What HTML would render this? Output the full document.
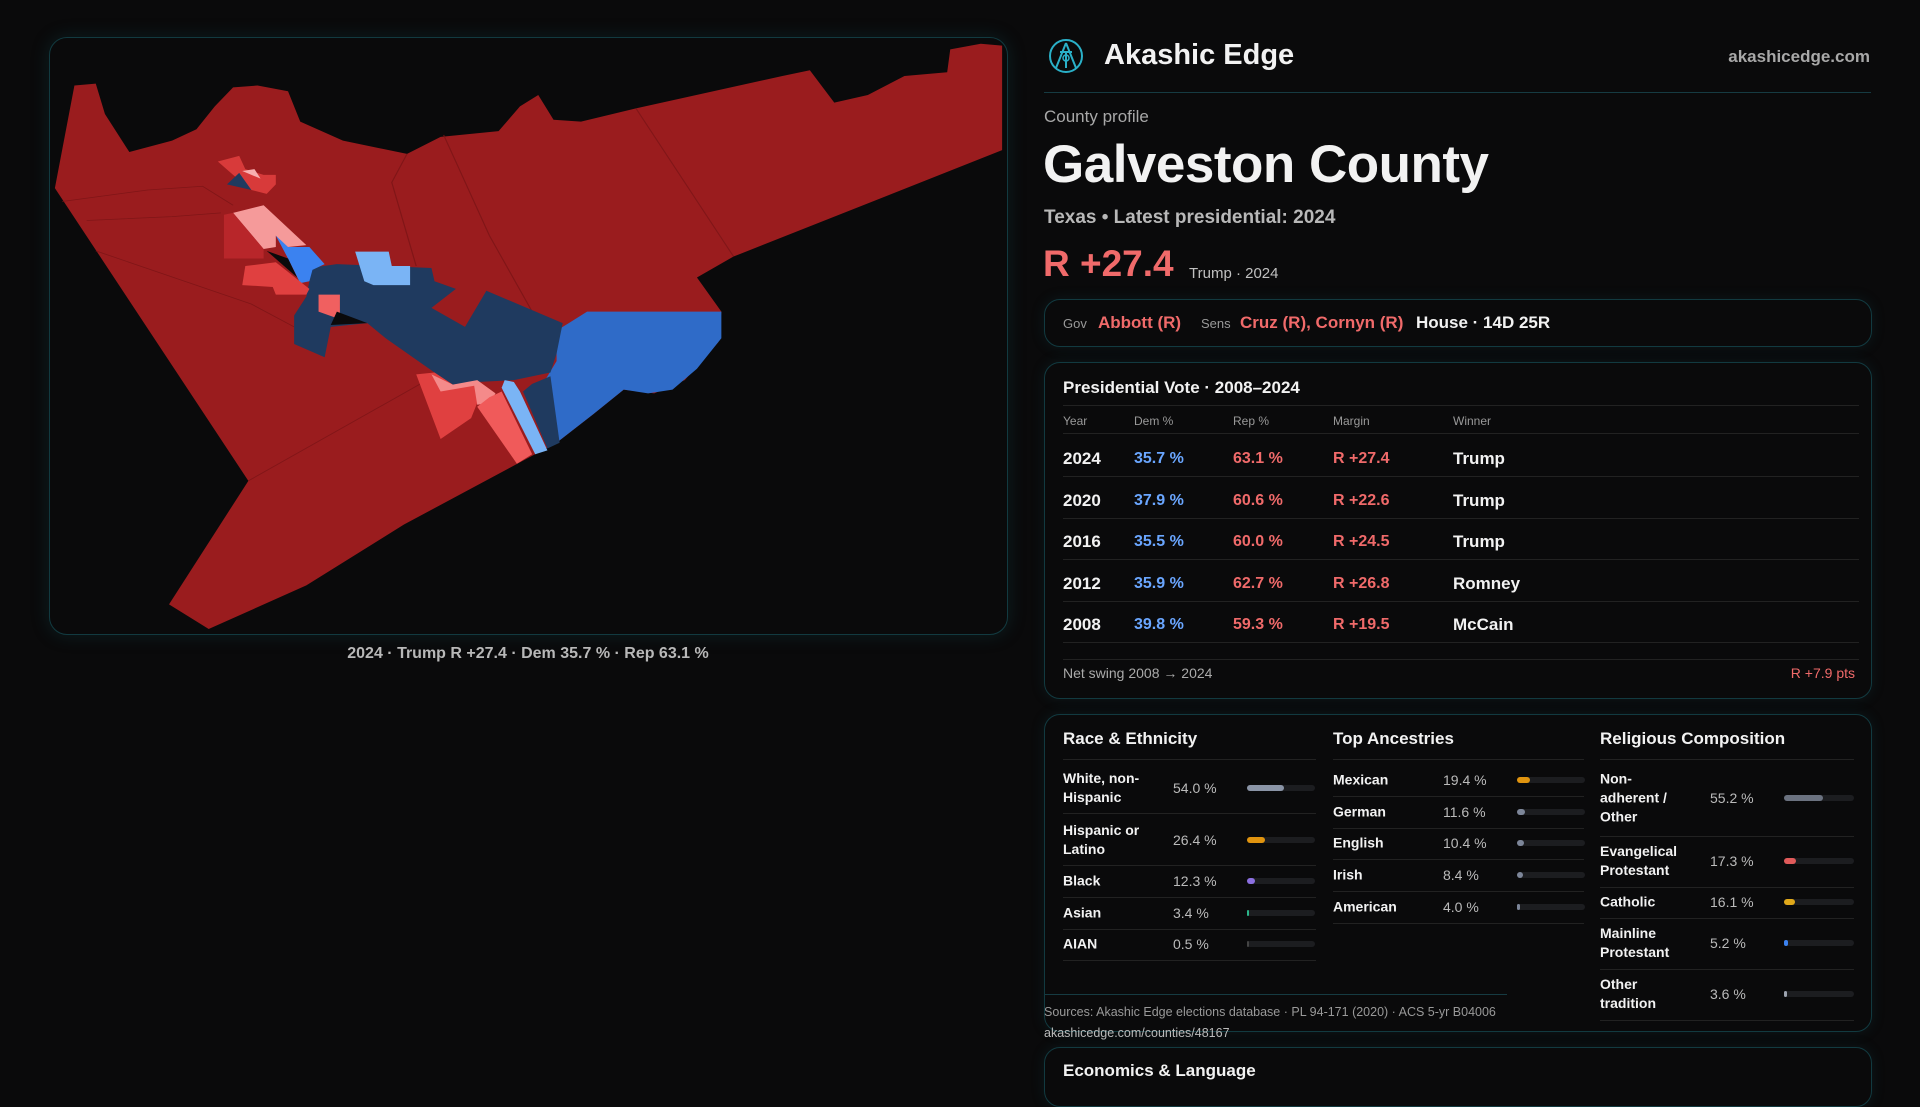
<!DOCTYPE html>
<html><head><meta charset="utf-8">
<style>
*{box-sizing:border-box;margin:0;padding:0}
body{width:1920px;height:1080px;background:#0a0a0b;font-family:"Liberation Sans",sans-serif;color:#f2f2f2;position:relative;overflow:hidden}
.abs{position:absolute;white-space:nowrap}
.card{position:absolute;border:1px solid #123a40;border-radius:16px;background:#0a0a0b;box-shadow:0 0 14px rgba(20,90,100,0.18)}
.gray{color:#a8a8a8}
.red{color:#f06a6a}
.hl{position:absolute;height:1px;background:#222}
.fill{position:absolute;left:0;top:0;height:6px;border-radius:3px}
</style></head><body>

<div class="card" style="left:49px;top:37px;width:959px;height:598px;border-radius:18px;box-shadow:0 0 18px rgba(20,90,100,0.25)">
<svg width="957" height="596" viewBox="0 0 1568 1568" preserveAspectRatio="none" style="position:absolute;left:0;top:0">
<polygon fill="#9a1c1e" points="8,395 40,125 75,120 90,200 130,300 200,270 240,240 270,180 300,130 340,125 390,140 410,220 480,270 585,305 640,260 735,245 770,180 800,150 825,215 870,220 960,185 1200,100 1245,85 1285,170 1340,150 1400,100 1470,90 1475,30 1525,15 1560,20 1560,295 1120,575 1060,630 1100,720 1095,800 1040,900 990,935 940,925 890,990 830,1065 760,1125 580,1280 420,1440 260,1555 195,1490 325,1165"/>
<g stroke="#7a1416" stroke-width="2" fill="none" opacity="0.8">
<polyline points="960,185 1120,575"/><polyline points="645,255 720,520 790,720"/><polyline points="75,560 330,700 400,760"/><polyline points="325,1165 640,880"/><polyline points="20,430 160,400 250,390 300,440"/><polyline points="60,480 200,470 280,460"/><polyline points="585,305 560,380 600,600"/>
</g>
<polygon fill="#2f6bc8" points="880,720 1100,720 1100,790 1060,870 1020,925 980,935 940,925 890,990 830,1065 800,930 830,850 830,770 850,750"/>
<polygon fill="#1f3a5f" points="425,605 470,595 625,605 630,640 665,660 625,710 680,760 715,665 840,750 830,830 820,880 760,900 700,905 660,912 630,880 550,790 520,750 460,760 450,840 400,805 400,730 420,680 425,640"/>
<polygon fill="#7ab4f5" points="500,562 555,562 560,600 590,600 590,650 530,650 515,640"/>
<polygon fill="#3b82f0" points="370,520 390,520 390,550 425,550 450,595 430,610 425,640 410,645 390,580"/>
<polygon fill="#f59a9a" points="300,460 350,440 420,545 390,550 370,520 370,550 350,555"/>
<polygon fill="#b8262a" points="285,465 300,460 350,555 350,580 285,580"/>
<polygon fill="#e04040" points="320,600 370,590 425,660 420,675 370,675 365,655 315,650"/>
<polygon fill="#f06060" points="440,675 475,675 475,740 440,720"/>
<polygon fill="#0a0a0b" points="355,560 390,580 405,630"/>
<polygon fill="#0a0a0b" points="470,720 520,750 460,755"/>
<polygon fill="#e04040" points="600,885 630,880 660,912 700,905 700,960 690,1000 640,1055"/>
<polygon fill="#f48a8a" points="625,885 660,912 700,900 730,935 720,960 700,965 695,915 640,930"/>
<polygon fill="#f05a5a" points="720,945 740,930 790,1095 765,1120 700,970"/>
<polygon fill="#7ab4f5" points="745,900 760,905 770,930 815,1085 795,1095 740,920"/>
<polygon fill="#1f3a5f" points="790,910 820,890 835,1065 815,1080 775,930"/>
<polygon fill="#d83a3a" points="275,325 310,310 320,345 350,360 370,360 370,385 355,410 330,400 300,360"/>
<polygon fill="#1f3a5f" points="290,385 310,355 330,400"/>
<polygon fill="#f8b0b0" points="315,350 335,345 345,370"/>
</svg>
</div>
<div class="abs gray" style="left:528px;top:645px;transform:translateX(-50%);font-size:16px;font-weight:bold;color:#b8b8b8">2024 · Trump R +27.4 · Dem 35.7 % · Rep 63.1 %</div>

<svg class="abs" style="left:1048px;top:38px" width="36" height="36" viewBox="0 0 36 36">
<circle cx="18" cy="18" r="16" fill="none" stroke="#2ab0c8" stroke-width="2"/>
<path d="M18 5 L8 30 M18 5 L28 30 M12 14 L24 14 M18 14 L18 30" stroke="#2ab0c8" stroke-width="2" fill="none"/>
<circle cx="18" cy="20" r="3" fill="none" stroke="#2ab0c8" stroke-width="1.5"/>
</svg>
<div class="abs" style="left:1104px;top:39px;font-size:29px;font-weight:bold">Akashic Edge</div>
<div class="abs" style="right:50px;top:47px;font-size:17px;font-weight:bold;color:#a8a8a8">akashicedge.com</div>
<div class="hl" style="left:1044px;top:92px;width:827px;background:#163b42"></div>

<div class="abs gray" style="left:1044px;top:107px;font-size:17px">County profile</div>
<div class="abs" style="left:1043px;top:134px;font-size:53px;font-weight:bold;letter-spacing:-0.5px">Galveston County</div>
<div class="abs" style="left:1044px;top:207px;font-size:19px;font-weight:bold;color:#b8b8b8">Texas • Latest presidential: 2024</div>
<div class="abs red" style="left:1043px;top:243px;font-size:37px;font-weight:bold">R +27.4</div>
<div class="abs" style="left:1189px;top:265px;font-size:15px;color:#c0c0c0">Trump · 2024</div>

<div class="card" style="left:1044px;top:299px;width:828px;height:48px">
<div class="abs" style="left:18px;top:16px;font-size:13px;color:#999">Gov</div>
<div class="abs red" style="left:53px;top:13px;font-size:17px;font-weight:bold">Abbott (R)</div>
<div class="abs" style="left:156px;top:16px;font-size:13px;color:#999">Sens</div>
<div class="abs red" style="left:195px;top:13px;font-size:17px;font-weight:bold">Cruz (R), Cornyn (R)</div>
<div class="abs" style="left:371px;top:13px;font-size:17px;font-weight:bold">House · 14D 25R</div>
</div>

<div class="card" style="left:1044px;top:362px;width:828px;height:337px">
<div class="abs" style="left:18px;top:15px;font-size:17px;font-weight:bold">Presidential Vote · 2008–2024</div>
<div class="hl" style="left:18px;top:42px;width:796px"></div>
<div id="vt" style="position:absolute;left:0;top:0;width:100%;height:100%"></div>
<div class="abs" style="left:18px;top:302px;font-size:14px;color:#aaa">Net swing 2008 → 2024</div>
<div class="abs red" style="right:16px;top:302px;font-size:14px">R +7.9 pts</div>
</div>

<div class="card" style="left:1044px;top:714px;width:828px;height:318px">
<div id="demo" style="position:absolute;left:0;top:0;width:100%;height:100%"></div>
<div class="hl" style="left:0;top:279px;width:462px;background:#163b42"></div>
</div>
<div class="abs" style="left:1044px;top:1005px;font-size:12.5px;color:#999">Sources: Akashic Edge elections database · PL 94-171 (2020) · ACS 5-yr B04006</div>
<div class="abs" style="left:1044px;top:1026px;font-size:12.5px;color:#bbb">akashicedge.com/counties/48167</div>

<div class="card" style="left:1044px;top:1047px;width:828px;height:60px">
<div class="abs" style="left:18px;top:13px;font-size:17px;font-weight:bold">Economics &amp; Language</div>
</div>

<script>
const years=["2024","2020","2016","2012","2008"];
const demPct=[35.7,37.9,35.5,35.9,39.8];
const repPct=[63.1,60.6,60.0,62.7,59.3];
const margins=["27.4","22.6","24.5","26.8","19.5"];
const winners=["Trump","Trump","Trump","Romney","McCain"];

const raceLabels=["White, non-\nHispanic","Hispanic or\nLatino","Black","Asian","AIAN"];
const raceValues=[54.0,26.4,12.3,3.4,0.5];
const ancLabels=["Mexican","German","English","Irish","American"];
const ancValues=[19.4,11.6,10.4,8.4,4.0];
const relLabels=["Non-\nadherent /\nOther","Evangelical\nProtestant","Catholic","Mainline\nProtestant","Other\ntradition"];
const relValues=[55.2,17.3,16.1,5.2,3.6];

const raceColors=["#8a94a6","#e0940f","#8b6fe0","#2bb58a","#444"];
const ancColors=["#e0940f","#7d8699","#7d8699","#7d8699","#7d8699"];
const relColors=["#6b7280","#e05a5a","#e0a81a","#3b82f0","#9ca3af"];

function mk(parent,css,text){const d=document.createElement('div');d.className='abs';d.style.cssText=css;if(text!==undefined)d.textContent=text;parent.appendChild(d);return d;}

const vt=document.getElementById('vt');
const cols=[18,89,188,288,408];
["Year","Dem %","Rep %","Margin","Winner"].forEach((h,i)=>{
  const el=mk(vt,`left:${cols[i]}px;top:51px;font-size:12px;color:#999`,h);
  
  
});
mk(vt,'left:18px;top:70px;width:796px;height:1px;background:#222');
years.forEach((y,i)=>{
  const top=86+i*41.5;
  const row=mk(vt,`left:0;top:${top}px;width:100%;height:40px`);
  
  
  mk(row,`left:${cols[0]}px;top:0;font-size:17px;font-weight:bold`,y);
  mk(row,`left:${cols[1]}px;top:1px;font-size:16px;font-weight:bold;color:#6aa6ff`,demPct[i].toFixed(1)+' %');
  mk(row,`left:${cols[2]}px;top:1px;font-size:16px;font-weight:bold;color:#f06a6a`,repPct[i].toFixed(1)+' %');
  mk(row,`left:${cols[3]}px;top:1px;font-size:16px;font-weight:bold;color:#f06a6a`,'R +'+margins[i]);
  mk(row,`left:${cols[4]}px;top:0;font-size:17px;font-weight:bold`,winners[i]);
  mk(row,`left:18px;top:27px;width:796px;height:1px;background:#222`);
});
mk(vt,'left:18px;top:296px;width:796px;height:1px;background:#222');

const demo=document.getElementById('demo');
function section(title,x,w,labels,values,colors,rowTops,rowH,valX,barX,barW,name){
  const t=mk(demo,`left:${x}px;top:14px;font-size:17px;font-weight:bold`,title);
  
  
  mk(demo,`left:${x}px;top:44px;width:${w}px;height:1px;background:#222`);
  labels.forEach((l,i)=>{
    const c=rowTops[i];
    const row=mk(demo,`left:${x}px;top:${c-rowH[i]/2}px;width:${w}px;height:${rowH[i]}px`);
    
    
    mk(row,`left:0;top:50%;transform:translateY(-50%);white-space:pre-line;font-size:14px;font-weight:bold;line-height:19px`,l);
    mk(row,`left:${valX}px;top:50%;transform:translateY(-50%);font-size:14px;color:#bbb`,values[i].toFixed(1)+' %');
    const tr=mk(row,`left:${barX}px;top:${rowH[i]/2-3}px;width:${barW}px;height:6px;border-radius:3px;background:#1c1d20`);
    const f=document.createElement('div');f.className='fill';
    f.style.width=Math.max(2,values[i]/100*barW)+'px';f.style.background=colors[i];
    
    
    tr.appendChild(f);
    mk(row,`left:0;top:${rowH[i]}px;width:${w}px;height:1px;background:#222`);
  });
}
section("Race & Ethnicity",18,253,raceLabels,raceValues,raceColors,[73,125,166,198,229],[50,50,32,32,32],110,184,68,'race');
section("Top Ancestries",288,251,ancLabels,ancValues,ancColors,[65,97,128,160,192],[32,32,32,32,32],110,184,68,'ancestry');
section("Religious Composition",555,254,relLabels,relValues,relColors,[83,146,187,228,279],[76,51,31,51,51],110,184,70,'religion');
</script>
</body></html>
